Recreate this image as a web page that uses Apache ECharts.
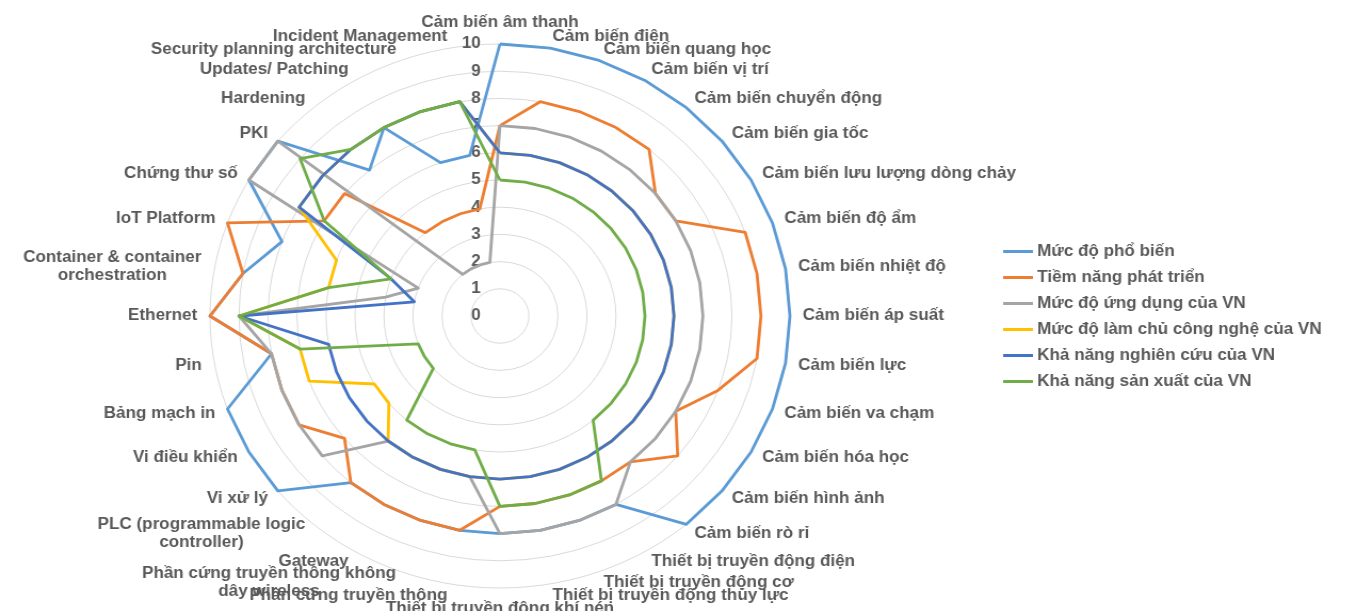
<!DOCTYPE html>
<html>
<head>
<meta charset="utf-8">
<script src="https://cdn.jsdelivr.net/npm/echarts/dist/echarts.min.js"></script>
<style>
  html, body { margin: 0; padding: 0; background: #ffffff; overflow: hidden; }
  #chart { width: 1266px; height: 611px; transform: scaleX(1.066); transform-origin: 0 0; }
</style>
</head>
<body>
<div id="chart"></div>
<script>
// Category names, clockwise from the top
const categories = [
  'Cảm biến âm thanh', 'Cảm biến điện', 'Cảm biến quang học', 'Cảm biến vị trí',
  'Cảm biến chuyển động', 'Cảm biến gia tốc', 'Cảm biến lưu lượng dòng chảy', 'Cảm biến độ ẩm',
  'Cảm biến nhiệt độ', 'Cảm biến áp suất', 'Cảm biến lực', 'Cảm biến va chạm',
  'Cảm biến hóa học', 'Cảm biến hình ảnh', 'Cảm biến rò rỉ', 'Thiết bị truyền động điện',
  'Thiết bị truyền động cơ', 'Thiết bị truyền động thủy lực', 'Thiết bị truyền động khí nén', 'Phần cứng truyền thông',
  'Phần cứng truyền thông không\ndây wireless', 'Gateway', 'PLC (programmable logic\ncontroller)', 'Vi xử lý',
  'Vi điều khiển', 'Bảng mạch in', 'Pin', 'Ethernet',
  'Container & container\norchestration', 'IoT Platform', 'Chứng thư số', 'PKI',
  'Hardening', 'Updates/ Patching', 'Security planning architecture', 'Incident Management'
];

const seriesNames = [
  'Mức độ phổ biến',
  'Tiềm năng phát triển',
  'Mức độ ứng dụng của VN',
  'Mức độ làm chủ công nghệ của VN',
  'Khả năng nghiên cứu của VN',
  'Khả năng sản xuất của VN'
];

const mucDoPhoBien = [10,10,10,10,10,10,10,10,10,10,10,10,10,10,10,8,8,8,8,8,8,8,8,10,10,10,8,10,9,8,10,10,7,8,6,6];
const tiemNangPhatTrien = [7,8,8,8,8,7,7,9,9,9,9,8,7,8,7,7,7,7,7,8,8,8,8,7,8,8,8,10,9,10,7,7,4,4,4,4];
const mucDoUngDung = [7,7,7,7,7,7,7,7,7,7,7,7,7,7,7,8,8,8,8,6,6,6,6,8,8,8,8,9,4,3,10,10,2,2,2,2];
const mucDoLamChu = [6,6,6,6,6,6,6,6,6,6,6,6,6,6,6,6,6,6,6,6,6,6,6,5,5,7,7,9,6,6,8,8,8,8,8,8];
const khaNangNghienCuu = [6,6,6,6,6,6,6,6,6,6,6,6,6,6,6,6,6,6,6,6,6,6,6,6,6,6,6,9,3,4,8,8,8,8,8,8];
const khaNangSanXuat = [5,5,5,5,5,5,5,5,5,5,5,5,5,5,5,7,7,7,7,5,5,5,5,3,3,3,7,9,6,4,7,9,8,8,8,8];

const valueTicks = [0,1,2,3,4,5,6,7,8,9,10];

const seriesValues = [mucDoPhoBien, tiemNangPhatTrien, mucDoUngDung, mucDoLamChu, khaNangNghienCuu, khaNangSanXuat];
const colors = ['#5B9BD5', '#ED7D31', '#A5A5A5', '#FFC000', '#4472C4', '#70AD47'];

// ECharts lays radar indicators out counter-clockwise; reorder so they run clockwise
const order = [0];
for (let i = categories.length - 1; i >= 1; i--) order.push(i);

const font = 'Liberation Sans, Arial, sans-serif';
const textGray = '#595959';
const nameSize = 16;
const cx = 469, cy = 316, R = 272;

// Two-line axis names: every line gets the width of the longest one, text centred inside
const measureCtx = document.createElement('canvas').getContext('2d');
measureCtx.font = 'bold ' + nameSize + 'px ' + font;
const nameRich = {};
const nameKey = {};
categories.forEach((name, i) => {
  if (name.indexOf('\n') < 0) return;
  const w = Math.ceil(Math.max(...name.split('\n').map(l => measureCtx.measureText(l).width)));
  const key = 'n' + i;
  nameKey[name] = key;
  nameRich[key] = {
    width: w, align: 'center', color: textGray, fontWeight: 'bold',
    fontSize: nameSize, fontFamily: font, lineHeight: 18
  };
});

const chart = echarts.init(document.getElementById('chart'), null, { renderer: 'canvas' });
chart.setOption({
  animation: false,
  color: colors,
  legend: {
    orient: 'vertical',
    left: 941,
    top: 243,
    padding: 0,
    icon: 'rect',
    itemWidth: 28,
    itemHeight: 3,
    itemGap: 9,
    data: seriesNames,
    textStyle: { color: textGray, fontWeight: 'bold', fontSize: 16, fontFamily: font, lineHeight: 17, padding: [0, 0, 0, -1] }
  },
  radar: {
    center: [cx, cy],
    radius: R,
    startAngle: 90,
    shape: 'circle',
    splitNumber: 10,
    nameGap: 12,
    indicator: order.map(i => ({ name: categories[i], min: 0, max: 10 })),
    axisName: {
      color: textGray, fontWeight: 'bold', fontSize: nameSize, fontFamily: font, lineHeight: 18,
      formatter: name => {
        const key = nameKey[name];
        if (!key) return name;
        return name.split('\n').map(l => '{' + key + '|' + l + '}').join('\n');
      },
      rich: nameRich
    },
    splitLine: { lineStyle: { color: '#D9D9D9', width: 1 } },
    splitArea: { show: false },
    axisLine: { show: false },
    axisTick: { show: false },
    axisLabel: { show: false }
  },
  polar: { center: [cx, cy], radius: R },
  angleAxis: { show: false, startAngle: 90, min: 0, max: 360 },
  radiusAxis: {
    min: 0, max: 10, interval: 1,
    axisLine: { show: false },
    axisTick: { show: false },
    splitLine: { show: false },
    axisLabel: {
      margin: 18,
      color: textGray, fontWeight: 'bold', fontSize: 16, fontFamily: font,
      formatter: v => valueTicks.includes(v) ? String(v) : ''
    }
  },
  series: [{
    type: 'radar',
    symbol: 'none',
    data: seriesNames.map((name, k) => ({
      name: name,
      value: order.map(i => seriesValues[k][i]),
      lineStyle: { color: colors[k], width: 2.8 },
      itemStyle: { color: colors[k] }
    }))
  }]
});
</script>
</body>
</html>
